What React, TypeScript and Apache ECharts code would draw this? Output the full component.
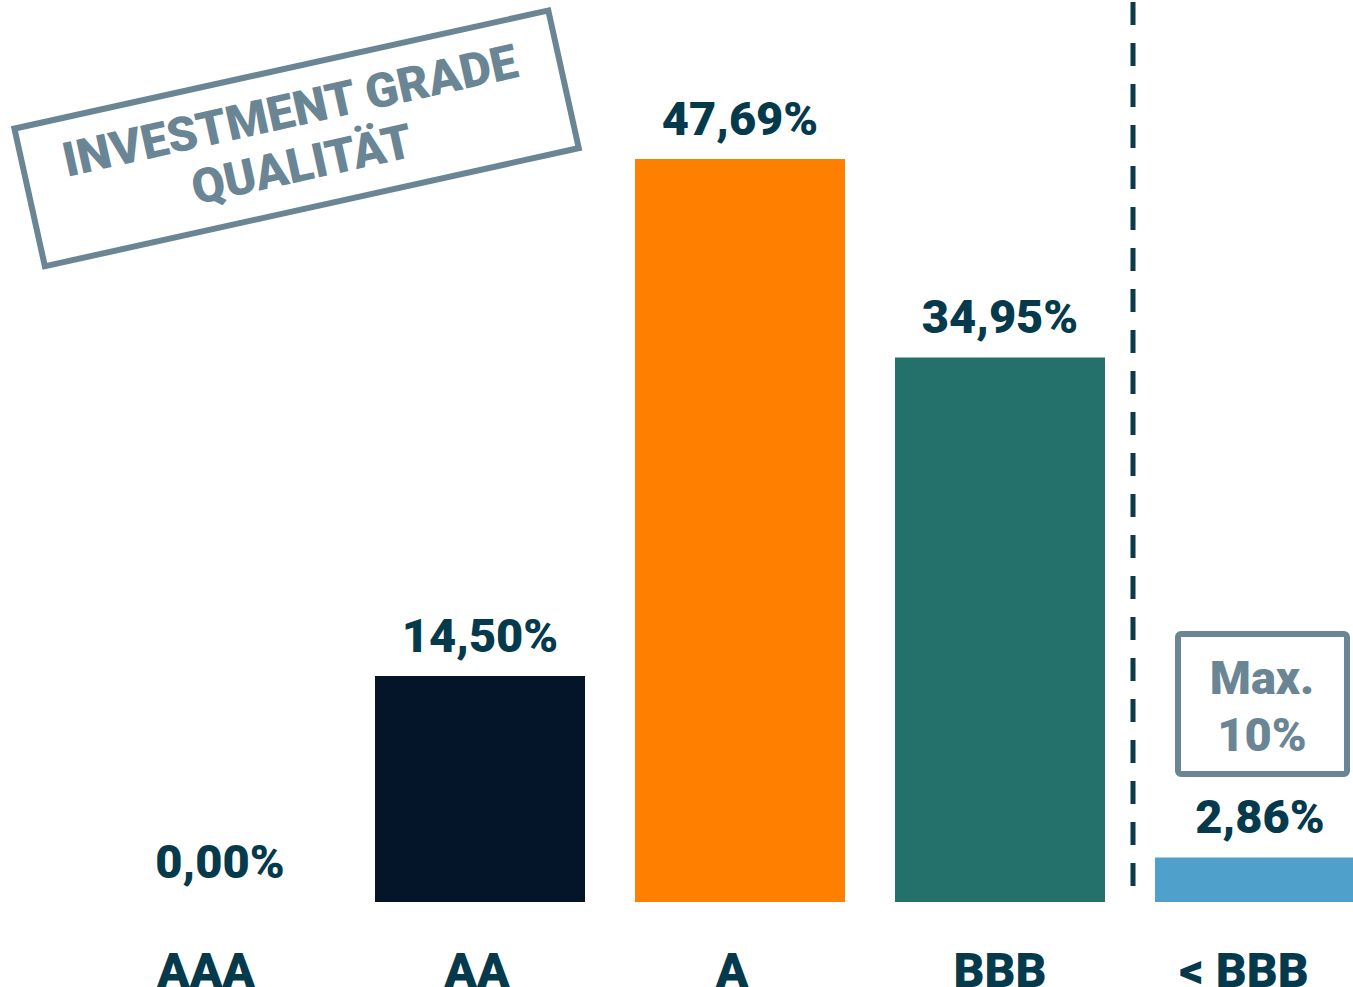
import React, { useEffect, useRef } from "react";
import * as echarts from "echarts";

const categories = ["AAA", "AA", "A", "BBB", "< BBB"];
const values = [0.0, 14.5, 47.69, 34.95, 2.86];
const barColors = ["#03384d", "#041529", "#ff8000", "#24716b", "#4fa0cb"];
const stampLines = ["INVESTMENT GRADE", "QUALITÄT"];
const maxLines = ["Max.", "10%"];
const labelShift = [14, 3, 8, 0, 16];

const fmt = (v: number) => v.toFixed(2).replace(".", ",") + "%";

export default function App() {
  const ref = useRef<HTMLDivElement>(null);
  useEffect(() => {
    if (!ref.current) return;
    const chart = echarts.init(ref.current, undefined, { renderer: "svg" });
    const labelColor = "#053a4d";
    const grey = "#6a8594";
    const font = "Roboto";
    const rich: Record<string, any> = {};
    labelShift.forEach((s, i) => {
      rich["c" + i] = {
        color: labelColor,
        fontFamily: font,
        fontWeight: 900,
        fontSize: 48,
        padding: [0, s * 2, 0, 0],
      };
    });
    chart.setOption({
      animation: false,
      grid: { left: 90, right: 0, top: 123, bottom: 85, outerBoundsMode: "none", containLabel: false },
      xAxis: {
        type: "category",
        data: categories,
        axisLine: { show: false },
        axisTick: { show: false },
        axisLabel: {
          interval: 0,
          hideOverlap: false,
          color: labelColor,
          fontFamily: font,
          fontWeight: 900,
          fontSize: 48,
          margin: 44,
          formatter: (v: string, i: number) => `{c${i}|${v}}`,
          rich,
        },
      },
      yAxis: { type: "value", min: 0, max: 50, show: false, splitLine: { show: false } },
      series: [
        {
          type: "bar",
          barWidth: 210,
          data: values.map((v, i) => ({ value: v, itemStyle: { color: barColors[i] } })),
          label: {
            show: true,
            position: "top",
            distance: 17,
            color: labelColor,
            fontFamily: font,
            fontWeight: 900,
            fontSize: 47,
            formatter: (p: any) => fmt(p.value),
          },
        },
      ],
      graphic: [
        {
          type: "line",
          shape: { x1: 1133, y1: 2, x2: 1133, y2: 898 },
          style: { stroke: "#0b3a4c", lineWidth: 5, lineDash: [23, 18] },
        },
        {
          type: "group",
          x: 296,
          y: 138,
          rotation: 0.2175,
          children: [
            {
              type: "rect",
              shape: { x: -273, y: -70, width: 547, height: 141 },
              style: { fill: "none", stroke: grey, lineWidth: 6 },
            },
            {
              type: "text",
              x: 0,
              y: -28,
              style: {
                text: stampLines[0],
                fill: grey,
                font: `900 48px ${font}`,
                align: "center",
                verticalAlign: "middle",
              },
            },
            {
              type: "text",
              x: 0,
              y: 27,
              style: {
                text: stampLines[1],
                fill: grey,
                font: `900 48px ${font}`,
                align: "center",
                verticalAlign: "middle",
              },
            },
          ],
        },
        {
          type: "rect",
          shape: { x: 1178, y: 634, width: 169, height: 140, r: 3 },
          style: { fill: "none", stroke: grey, lineWidth: 6 },
        },
        {
          type: "text",
          x: 1262,
          y: 677,
          style: {
            text: maxLines[0],
            fill: grey,
            font: `900 47px ${font}`,
            align: "center",
            verticalAlign: "middle",
          },
        },
        {
          type: "text",
          x: 1262,
          y: 734,
          style: {
            text: maxLines[1],
            fill: grey,
            font: `900 47px ${font}`,
            align: "center",
            verticalAlign: "middle",
          },
        },
      ],
    });
    return () => chart.dispose();
  }, []);
  return (
    <div style={{ position: "fixed", left: 0, top: 0, width: 1353, height: 987, overflow: "hidden", background: "#fff" }}>
      <div ref={ref} style={{ width: 1390, height: 987 }} />
    </div>
  );
}
